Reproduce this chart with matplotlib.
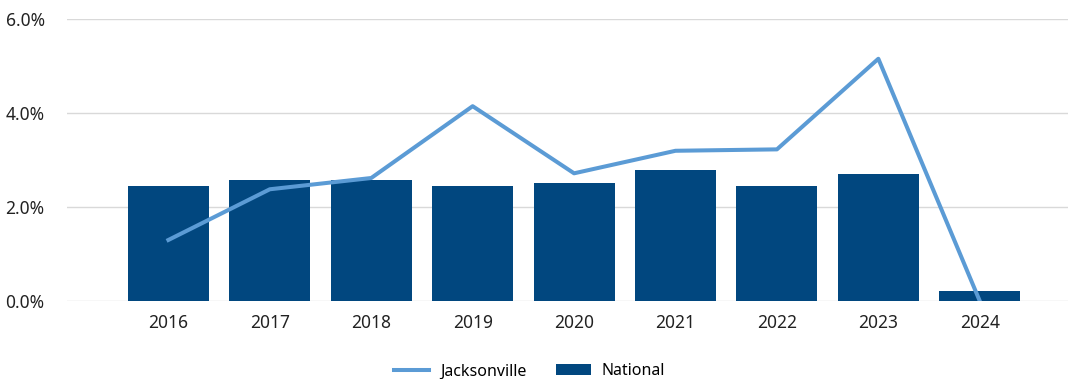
import matplotlib.pyplot as plt
import numpy as np
from matplotlib.ticker import FuncFormatter

plt.rcParams['font.family'] = ['Noto Sans', 'DejaVu Sans']

years = ['2016', '2017', '2018', '2019', '2020', '2021', '2022', '2023', '2024']
national = [2.45, 2.57, 2.57, 2.45, 2.51, 2.79, 2.45, 2.70, 0.21]
jacksonville = [1.30, 2.38, 2.62, 4.15, 2.72, 3.20, 3.23, 5.16, 0.0]

fig = plt.figure(figsize=(10.68, 3.79), dpi=100)
ax = fig.add_axes([0.0627, 0.2058, 0.9373, 0.7432])

x = np.arange(len(years))
bars = ax.bar(x, national, width=0.8, color='#01477F', zorder=2)
line, = ax.plot(x, jacksonville, color='#5B9BD5', linewidth=2.9, zorder=3)

ax.set_ylim(0, 6)
ax.set_yticks([0, 2, 4, 6])
ax.yaxis.set_major_formatter(FuncFormatter(lambda v, p: f'{v:.1f}%'))
ax.set_xlim(-1.0, 8.87)
ax.set_xticks(x)
ax.set_xticklabels(years)
ax.grid(axis='y', color='#D9D9D9', linewidth=1, zorder=0)
ax.set_axisbelow(True)
for s in ax.spines.values():
    s.set_visible(False)
ax.tick_params(length=0, labelsize=12.5, colors='#222222')
ax.tick_params(axis='y', pad=16)
ax.tick_params(axis='x', pad=9)

fig.legend([line, bars], ['Jacksonville', 'National'],
           loc='center', bbox_to_anchor=(0.496, 0.02), ncol=2, frameon=False,
           fontsize=11.5, handlelength=2.2, columnspacing=1.8, handletextpad=0.7)

fig.savefig('out.png', dpi=100)
